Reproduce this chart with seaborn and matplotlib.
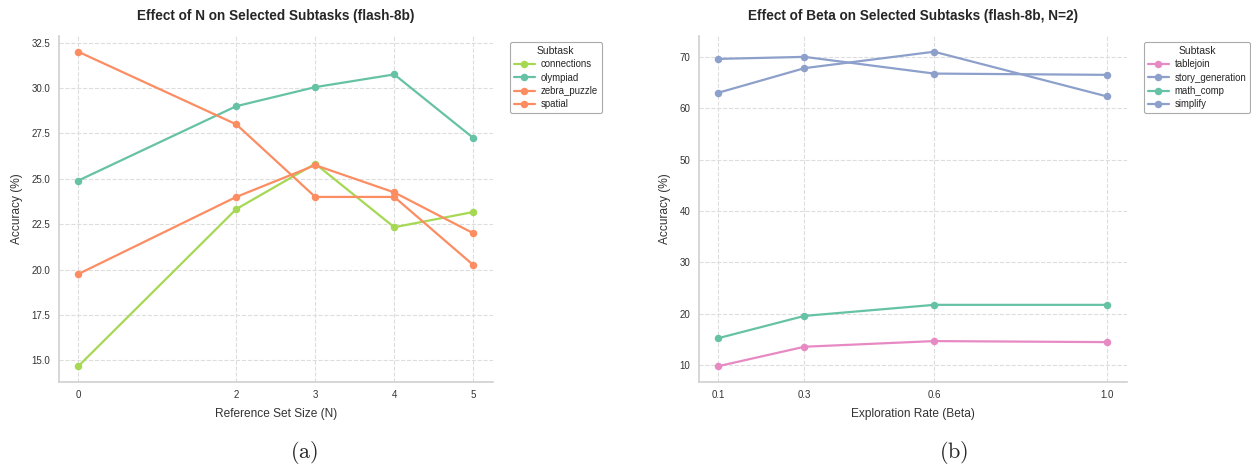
import pandas as pd
import seaborn as sns
import matplotlib
matplotlib.use('Agg')
import matplotlib.pyplot as plt

# Panel (a): accuracy vs reference set size N
n_values = [0, 2, 3, 4, 5]
connections = [14.67, 23.33, 25.83, 22.33, 23.17]
olympiad = [24.9, 29.0, 30.05, 30.75, 27.25]
zebra_puzzle = [32.0, 28.0, 24.0, 24.0, 20.25]
spatial = [19.75, 24.0, 25.75, 24.25, 22.0]

# Panel (b): accuracy vs exploration rate beta
beta_values = [0.1, 0.3, 0.6, 1.0]
tablejoin = [9.8, 13.6, 14.7, 14.5]
story_generation = [69.6, 70.0, 66.75, 66.5]
math_comp = [15.25, 19.6, 21.75, 21.75]
simplify = [63.0, 67.8, 71.0, 62.3]

set2 = sns.color_palette('Set2')
pal_a = {'connections': set2[4], 'olympiad': set2[0],
         'zebra_puzzle': set2[1], 'spatial': set2[1]}
pal_b = {'tablejoin': set2[3], 'story_generation': set2[2],
         'math_comp': set2[0], 'simplify': set2[2]}

df_a = pd.DataFrame({'N': n_values, 'connections': connections, 'olympiad': olympiad,
                     'zebra_puzzle': zebra_puzzle, 'spatial': spatial})
df_a = df_a.melt(id_vars=['N'], var_name='Subtask', value_name='Accuracy')

df_b = pd.DataFrame({'Beta': beta_values, 'tablejoin': tablejoin,
                     'story_generation': story_generation,
                     'math_comp': math_comp, 'simplify': simplify})
df_b = df_b.melt(id_vars=['Beta'], var_name='Subtask', value_name='Accuracy')

sns.set_theme(style='whitegrid')
plt.rcParams['font.family'] = ['Arial', 'Liberation Sans', 'DejaVu Sans']
plt.rcParams['mathtext.fontset'] = 'cm'

fig = plt.figure(figsize=(12.51, 4.70), dpi=100)
W, H = 1251, 470
ax1 = fig.add_axes([58.5 / W, 1 - 382 / H, 434.5 / W, 346 / H])
ax2 = fig.add_axes([698.5 / W, 1 - 382 / H, 428 / W, 346 / H])

sns.lineplot(data=df_a, x='N', y='Accuracy', hue='Subtask', palette=pal_a,
             marker='o', markersize=5.4, markeredgewidth=0, linewidth=1.6, ax=ax1)
sns.lineplot(data=df_b, x='Beta', y='Accuracy', hue='Subtask', palette=pal_b,
             marker='o', markersize=5.4, markeredgewidth=0, linewidth=1.6, ax=ax2)

setup = [
    (ax1, 'Effect of N on Selected Subtasks (flash-8b)', 'Reference Set Size (N)', n_values, 510),
    (ax2, 'Effect of Beta on Selected Subtasks (flash-8b, N=2)', 'Exploration Rate (Beta)', beta_values, 1144),
]
for ax, title, xlabel, ticks, leg_x in setup:
    ax.set_title(title, fontsize=9.8, fontweight='bold', pad=11.5, color='#262626')
    ax.set_xlabel(xlabel, fontsize=8.6, color='#333333', labelpad=5.5)
    ax.set_ylabel('Accuracy (%)', fontsize=8.6, color='#333333', labelpad=6)
    ax.set_xticks(ticks)
    ax.tick_params(labelsize=7, colors='#333333', length=0, pad=6)
    ax.grid(True, linestyle='--', color='#dddddd', linewidth=0.8)
    for s in ['left', 'bottom']:
        ax.spines[s].set_color('#d0d0d0')
        ax.spines[s].set_linewidth(1.2)
    sns.despine(ax=ax)
    leg = ax.legend(title='Subtask', fontsize=6.9, title_fontsize=7.5,
                    loc='upper left', bbox_to_anchor=(leg_x / W, 1 - 42 / H),
                    bbox_transform=fig.transFigure, borderaxespad=0,
                    frameon=True, fancybox=True, framealpha=1,
                    borderpad=0.4, labelspacing=0.35, handlelength=2.2,
                    handletextpad=0.6)
    leg.get_frame().set_edgecolor('#aaaaaa')
    leg.get_frame().set_linewidth(0.8)

ax1.set_xticklabels(['0', '2', '3', '4', '5'])
ax2.set_xticklabels(['0.1', '0.3', '0.6', '1.0'])

fig.text(304 / W, 1 - 453 / H, r'$\mathrm{(a)}$', fontsize=16, ha='center', va='center')
fig.text(954 / W, 1 - 453 / H, r'$\mathrm{(b)}$', fontsize=16, ha='center', va='center')

fig.savefig('out.png', dpi=100)
